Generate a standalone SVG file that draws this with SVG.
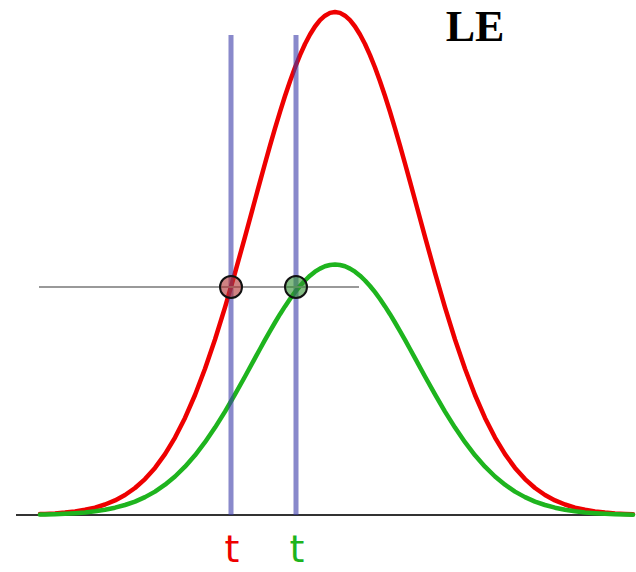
<svg xmlns="http://www.w3.org/2000/svg" width="636" height="572" viewBox="0 0 636 572">
<style>
.curve{fill:none;stroke-width:4.5;stroke-linejoin:round;stroke-linecap:round}
.vline{stroke:#3a3aa8;stroke-opacity:0.6;stroke-width:5}
.lbl{font-family:"DejaVu Sans","Liberation Sans",sans-serif;font-size:38px;text-anchor:middle}
</style>
<rect width="636" height="572" fill="#ffffff"/>
<g id="axes">
<line x1="16" y1="515" x2="634" y2="515" stroke="#333333" stroke-width="2"/>
</g>
<g id="red-curve">
<polyline class="curve" stroke="#ee0000" points="40,514.1 45,513.9 55,513.4 65,512.6 75,511.4 85,509.8 95,507.6 105,504.5 115,500.4 125,495.0 135,488.0 145,479.1 155,467.9 165,454.2 175,437.6 185,417.9 195,395.0 205,368.8 215,339.5 225,307.4 235,272.9 245,236.8 255,200.0 260,181.6 265,163.5 270,145.7 275,128.4 280,111.8 285,96.0 290,81.2 295,67.5 300,55.1 305,44.0 310,34.5 315,26.5 320,20.2 325,15.7 330,12.9 335,12.0 340,12.9 345,15.7 350,20.2 355,26.5 360,34.5 365,44.0 370,55.1 375,67.5 380,81.2 385,96.0 390,111.8 395,128.4 400,145.7 405,163.5 410,181.6 415,200.0 425,236.8 435,272.9 445,307.4 455,339.5 465,368.8 475,395.0 485,417.9 495,437.6 505,454.2 515,467.9 525,479.1 535,488.0 545,495.0 555,500.4 565,504.5 575,507.6 585,509.8 595,511.4 605,512.6 615,513.4 625,513.9 633,514.3"/>
</g>
<g id="green-curve">
<polyline class="curve" stroke="#1eb41e" points="40,514.6 45,514.5 55,514.2 65,513.8 75,513.2 85,512.4 95,511.3 105,509.8 115,507.7 125,505.0 135,501.6 145,497.1 155,491.6 165,484.7 175,476.5 185,466.7 195,455.3 205,442.2 215,427.6 225,411.6 235,394.4 245,376.5 255,358.1 260,349.0 265,339.9 270,331.1 275,322.5 280,314.2 285,306.4 290,299.0 295,292.2 300,286.0 305,280.5 310,275.7 315,271.7 320,268.6 325,266.3 330,265.0 335,264.5 340,265.0 345,266.3 350,268.6 355,271.7 360,275.7 365,280.5 370,286.0 375,292.2 380,299.0 385,306.4 390,314.2 395,322.5 400,331.1 405,339.9 410,349.0 415,358.1 425,376.5 435,394.4 445,411.6 455,427.6 465,442.2 475,455.3 485,466.7 495,476.5 505,484.7 515,491.6 525,497.1 535,501.6 545,505.0 555,507.7 565,509.8 575,511.3 585,512.4 595,513.2 605,513.8 615,514.2 625,514.5 633,514.7"/>
</g>
<g id="connectors">
<line class="vline" x1="231" y1="35" x2="231" y2="515"/>
<line class="vline" x1="296" y1="35" x2="296" y2="515"/>
<line x1="39" y1="287" x2="359" y2="287" stroke="#999999" stroke-width="2"/>
</g>
<g id="point-red">
<circle cx="231" cy="287" r="11" fill="#b03030" fill-opacity="0.6" stroke="#111111" stroke-width="2"/>
</g>
<g id="point-green">
<circle cx="296" cy="287" r="11" fill="#309030" fill-opacity="0.6" stroke="#111111" stroke-width="2"/>
</g>
<g id="labels">
<text class="lbl" x="232" y="562" fill="#ee0000">t</text>
<text class="lbl" x="297" y="562" fill="#1eb41e">t</text>
<text x="475" y="41" font-family="'Liberation Serif','Times New Roman',serif" font-weight="bold" font-size="44" text-anchor="middle" fill="#000000">LE</text>
</g>
</svg>
